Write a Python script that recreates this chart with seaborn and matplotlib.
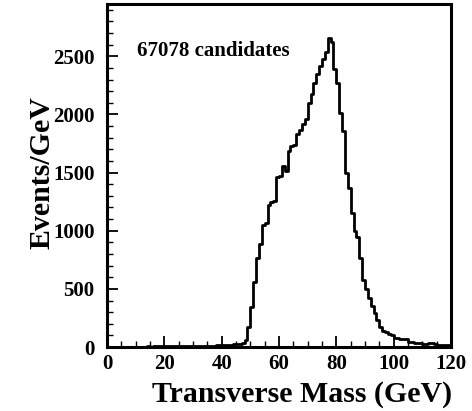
import numpy as np
import pandas as pd
import matplotlib
matplotlib.use("Agg")
import matplotlib.pyplot as plt
import seaborn as sns
from matplotlib.ticker import MultipleLocator

# Data: events per 1 GeV bin, transverse mass 0-120 GeV
bin_edges = list(range(0, 121))
counts = [
    0, 0, 1, 1, 2, 2, 3, 2, 3, 3, 4, 3, 4, 4, 5, 4, 5, 5, 6, 5,          # 0-19
    6, 6, 7, 6, 7, 8, 7, 8, 9, 8, 9, 10, 9, 10, 11, 12, 11, 12, 14, 13,  # 20-39
    15, 16, 18, 20, 22, 25, 28, 35, 60, 175,                             # 40-49
    345, 560, 763, 890, 1050, 1065, 1225, 1250, 1255, 1465,              # 50-59
    1470, 1555, 1512, 1684, 1730, 1740, 1830, 1870, 1914, 1957,          # 60-69
    2100, 2180, 2273, 2350, 2420, 2480, 2540, 2660, 2620, 2390,          # 70-79
    2270, 2015, 1856, 1497, 1368, 1152, 1000, 950, 765, 578,             # 80-89
    500, 420, 350, 290, 230, 175, 140, 125, 112, 100,                    # 90-99
    75, 75, 67, 67, 67, 46, 46, 37, 37, 37,                              # 100-109
    26, 26, 37, 37, 26, 20, 20, 20, 18, 15,                              # 110-119
]
annotation = "67078 candidates"
x_label = "Transverse Mass (GeV)"
y_label = "Events/GeV"
x_ticks = [0, 20, 40, 60, 80, 100, 120]
y_ticks = [0, 500, 1000, 1500, 2000, 2500]

centers = [e + 0.5 for e in bin_edges[:-1]]
df = pd.DataFrame({"mt": centers, "n": counts})

sns.set_style("ticks")
plt.rcParams["font.family"] = ["Liberation Serif", "DejaVu Serif"]
plt.rcParams["font.weight"] = "bold"
for key in ["text.color", "axes.labelcolor", "xtick.color", "ytick.color",
            "axes.edgecolor"]:
    plt.rcParams[key] = "black"

fig = plt.figure(figsize=(4.72, 4.11), dpi=100)
ax = fig.add_axes([0.2267, 0.1557, 0.7288, 0.8345])

sns.histplot(data=df, x="mt", weights="n", bins=bin_edges, element="step",
             fill=False, color="black", linewidth=2.0, ax=ax)

ax.set_xlim(0, 120)
ax.set_ylim(0, 2950)
ax.set_xticks(x_ticks)
ax.set_yticks(y_ticks)
ax.xaxis.set_minor_locator(MultipleLocator(5))
ax.yaxis.set_minor_locator(MultipleLocator(100))
ax.tick_params(which="major", direction="in", length=8, width=1.3,
               labelsize=15, top=False, right=False, colors="black")
ax.tick_params(axis="y", which="major", pad=9)
ax.tick_params(axis="x", which="major", pad=5)
ax.tick_params(which="minor", direction="in", length=4.3, width=1.0,
               top=False, right=False, colors="black")
for lab in ax.get_xticklabels() + ax.get_yticklabels():
    lab.set_fontweight("bold")
for s in ax.spines.values():
    s.set_linewidth(2.2)
    s.set_color("black")
    s.set_visible(True)

ax.set_xlabel(x_label, fontsize=21.5, fontweight="bold", color="black")
ax.xaxis.set_label_coords(0.567, -0.10)
ax.set_ylabel(y_label, fontsize=21.5, fontweight="bold", color="black")
ax.yaxis.set_label_coords(-0.15, 0.51)
ax.text(10.5, 2550, annotation, fontsize=15, fontweight="bold",
        va="center", ha="left", color="black")

fig.savefig("out.png", dpi=100)
